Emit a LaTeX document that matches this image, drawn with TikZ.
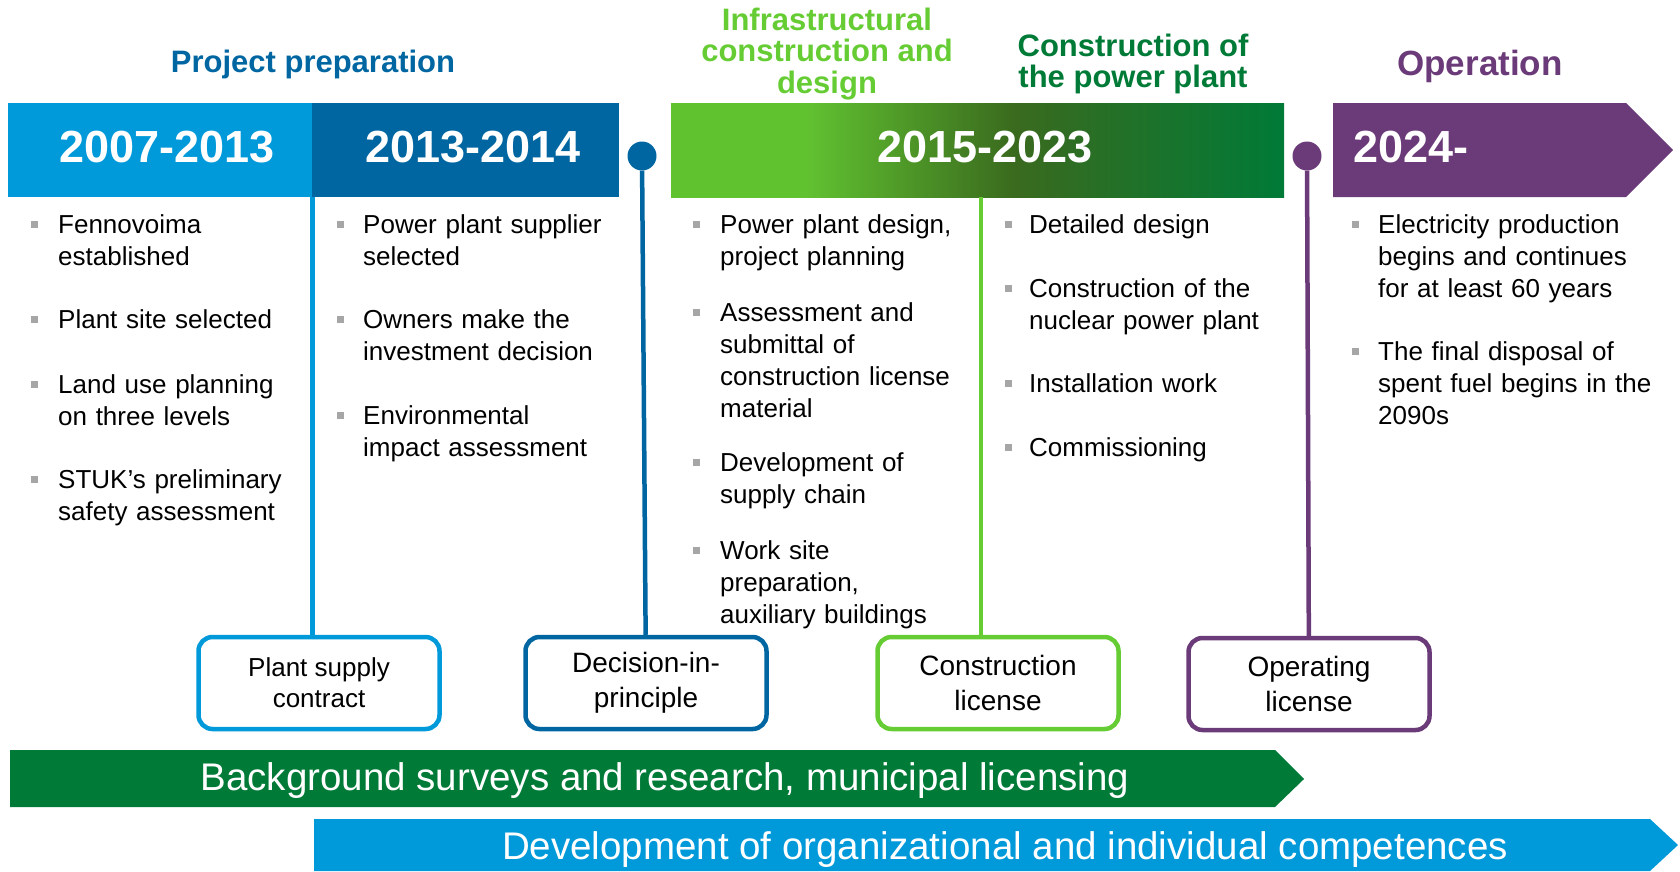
\documentclass[tikz,border=0pt]{standalone}
\usepackage{fontspec}
\setmainfont{Liberation Sans}
\usepackage{tikz}
\usetikzlibrary{positioning}

\definecolor{lblue}{HTML}{0099DA}
\definecolor{dblue}{HTML}{0066A1}
\definecolor{lgreen}{HTML}{66CC33}
\definecolor{dgreen}{HTML}{007A37}
\definecolor{midgreen}{HTML}{3A6A1E}
\definecolor{purp}{HTML}{6B3A78}
\definecolor{bulgray}{HTML}{A6A6A6}
\pgfdeclarehorizontalshading{grn}{100bp}{color(0bp)=(lgreen!95!black); color(36bp)=(lgreen!95!black);
  color(53bp)=(midgreen); color(75bp)=(dgreen); color(100bp)=(dgreen)}

\begin{document}
\begin{tikzpicture}[x=1pt,y=-1pt]
\tikzstyle{every node}=[font=\fontsize{26}{32}\selectfont, inner sep=0pt]
\tikzstyle{phase}=[font=\fontsize{31}{31.5}\selectfont\bfseries, align=center]
\tikzstyle{yearbox}=[minimum height=94pt]
\tikzstyle{year}=[font=\fontsize{45}{50}\selectfont\bfseries, text=white]
\tikzstyle{item}=[anchor=base west, align=left, text width=320pt]
\tikzstyle{mile}=[draw, line width=4.5pt, rounded corners=14pt, fill=white,
  minimum width=241pt, minimum height=92pt, align=center, font=\fontsize{28}{35}\selectfont]
\tikzstyle{pin}=[circle, minimum size=29pt]
\tikzstyle{stem}=[line width=4.5pt]
\tikzstyle{long}=[text=white, font=\fontsize{38.5}{40}\selectfont]
%\draw [red!40](0,0) grid[step=100] (1680,871);
\useasboundingbox (0,0) rectangle (1680,871);

% phases
\node[phase, text=dblue] (pp) at (313,64) {Project preparation};
\node[phase, text=lgreen] (icd) at (827,54) {Infrastructural\\construction and\\design};
\node[phase, text=dgreen] (cpp) at (1133,64) {Construction of\\the power plant};
\node[phase, text=purp, font=\fontsize{35}{36}\selectfont\bfseries] (op) at (1480,66) {Operation};

% years
\node[yearbox, fill=lblue, minimum width=305pt] (y1) at (160,150) {};
\node[yearbox, fill=dblue, minimum width=307pt] (y2) at (465.5,150) {};
\node[yearbox, shading=grn, minimum width=613pt] (y3) at (977.5,150) {};
\fill[purp] (1333,103) -- (1626,103) -- (1673,150) -- (1626,197) -- (1333,197) -- cycle;
\node[year] (t1) at (167,147) {2007-2013};
\node[year] (t2) at (473,147) {2013-2014};
\node[year] (t3) at (985,147) {2015-2023};
\node[year, anchor=west] (t4) at (1353,147) {2024-};

% milestones
\node[mile, draw=lblue, font=\fontsize{26}{31}\selectfont] (plant) at (319,683) {Plant supply\\contract};
\node[mile, draw=dblue] (dec) at (646,683) {Decision-in-\\principle};
\node[mile, draw=lgreen] (cons) at (998,683) {Construction\\license};
\node[mile, draw=purp] (oper) at (1309,684) {Operating\\license};

\node[pin, fill=dblue] (p1) at (642,156) {};
\node[pin, fill=purp] (p2) at (1307,156) {};
\coordinate (g) at (981,197);
\draw[stem, lblue] (y1.south east) -- (y1.south east |- plant.north);
\draw[stem, dblue] (p1) -- (dec);
\draw[stem, lgreen] (g) -- (g |- cons.north);
\draw[stem, purp] (p2) -- (oper);

% bullet lists
\foreach \y/\t [count=\i] in {233/{Fennovoima\\established}, 328/{Plant site selected},
    393/{Land use planning\\on three levels}, 488/{STUK’s preliminary\\safety assessment}}{
  \fill[bulgray] (30.5,\y-12.5) rectangle +(7,7);
  \node[item] (a\i) at (58,\y) {\t};
}
\foreach \y/\t [count=\i] in {233/{Power plant supplier\\selected}, 328/{Owners make the\\investment decision},
    424/{Environmental\\impact assessment}}{
  \fill[bulgray] (336.5,\y-12.5) rectangle +(7,7);
  \node[item] (b\i) at (363,\y) {\t};
}
\foreach \y/\t [count=\i] in {233/{Power plant design,\\project planning},
    321/{Assessment and\\submittal of\\construction license\\material},
    471/{Development of\\supply chain}, 559/{Work site\\preparation,\\auxiliary buildings}}{
  \fill[bulgray] (692.5,\y-12.5) rectangle +(7,7);
  \node[item] (c\i) at (720,\y) {\t};
}
\foreach \y/\t [count=\i] in {233/{Detailed design}, 297/{Construction of the\\nuclear power plant},
    392/{Installation work}, 456/{Commissioning}}{
  \fill[bulgray] (1004.5,\y-12.5) rectangle +(7,7);
  \node[item] (d\i) at (1029,\y) {\t};
}
\foreach \y/\t [count=\i] in {233/{Electricity production\\begins and continues\\for at least 60 years},
    360/{The final disposal of\\spent fuel begins in the\\2090s}}{
  \fill[bulgray] (1351.5,\y-12.5) rectangle +(7,7);
  \node[item] (e\i) at (1378,\y) {\t};
}

% long running work
\fill[dgreen] (10,750) -- (1275,750) -- (1304,779) -- (1275,807) -- (10,807) -- cycle;
\node[long] (bg) at (665,781) {Background surveys and research, municipal licensing};
\fill[lblue] (314,819) -- (1650,819) -- (1678,845) -- (1650,871) -- (314,871) -- cycle;
\node[long] (dev) at (1005,850) {Development of organizational and individual competences};
\end{tikzpicture}
\end{document}
